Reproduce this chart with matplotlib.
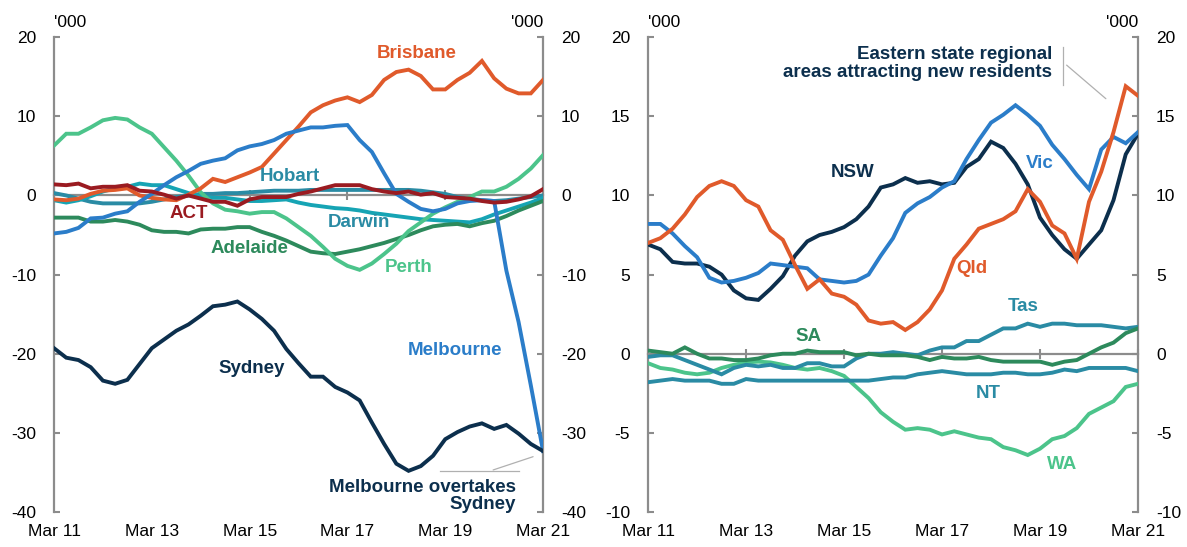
import matplotlib
matplotlib.use("Agg")
import matplotlib.pyplot as plt

plt.rcParams['font.family'] = ['Liberation Sans', 'DejaVu Sans']
plt.rcParams['axes.unicode_minus'] = False

# quarterly, Mar 11 .. Mar 21 (41 points), net interstate migration, '000
tick_idx = [0, 8, 16, 24, 32, 40]
tick_labels = ['Mar 11', 'Mar 13', 'Mar 15', 'Mar 17', 'Mar 19', 'Mar 21']

# ---- capital cities (left panel) ----
sydney = [-19.3, -20.5, -20.8, -21.7, -23.4, -23.8, -23.3, -21.3, -19.3, -18.2,
          -17.1, -16.3, -15.2, -14.0, -13.8, -13.4, -14.4, -15.6, -17.1, -19.4,
          -21.2, -22.9, -22.9, -24.2, -24.9, -25.9, -28.7, -31.4, -33.9, -34.8,
          -34.2, -32.9, -30.8, -29.9, -29.2, -28.8, -29.5, -29.0, -30.1, -31.4, -32.3]
melbourne = [-4.8, -4.6, -4.1, -2.9, -2.8, -2.3, -2.0, -0.8, 0.2, 1.3,
             2.3, 3.1, 4.0, 4.4, 4.7, 5.7, 6.2, 6.5, 7.0, 7.8,
             8.2, 8.6, 8.6, 8.8, 8.9, 7.0, 5.5, 2.8, 0.2, -0.8,
             -1.7, -2.0, -1.7, -1.0, -0.7, -0.6, -0.7, -9.5, -16.0, -24.0, -32.3]
brisbane = [-0.5, -0.6, -0.4, 0.2, 0.6, 0.7, 0.9, 0.0, -0.3, -0.5,
            -0.6, 0.1, 0.9, 2.1, 1.7, 2.3, 2.9, 3.6, 5.3, 7.0,
            8.7, 10.5, 11.4, 12.0, 12.4, 11.8, 12.7, 14.6, 15.6, 15.9,
            15.1, 13.4, 13.4, 14.6, 15.5, 17.0, 14.8, 13.5, 12.9, 12.9, 14.6]
perth = [6.3, 7.8, 7.8, 8.6, 9.5, 9.8, 9.6, 8.6, 7.8, 6.1,
         4.4, 2.5, 0.4, -1.0, -1.8, -2.0, -2.3, -2.1, -2.1, -2.9,
         -4.0, -5.1, -6.5, -8.0, -8.9, -9.4, -8.6, -7.4, -6.1, -4.5,
         -3.4, -2.3, -1.5, -0.8, -0.2, 0.5, 0.5, 1.1, 2.1, 3.4, 5.1]
adelaide = [-2.8, -2.8, -2.8, -3.3, -3.3, -3.1, -3.3, -3.7, -4.4, -4.6,
            -4.6, -4.8, -4.3, -4.2, -4.2, -4.0, -4.0, -4.6, -5.1, -5.7,
            -6.4, -7.1, -7.3, -7.4, -7.1, -6.8, -6.4, -6.0, -5.5, -5.0,
            -4.4, -3.9, -3.7, -3.6, -3.9, -3.5, -3.2, -2.6, -1.9, -1.3, -0.7]
hobart = [0.3, 0.0, -0.4, -0.8, -1.0, -1.0, -1.0, -1.0, -0.8, -0.5,
          -0.2, 0.0, 0.2, 0.2, 0.3, 0.3, 0.4, 0.5, 0.6, 0.6,
          0.6, 0.7, 0.7, 0.7, 0.7, 0.7, 0.7, 0.7, 0.7, 0.7,
          0.6, 0.4, 0.2, -0.2, -0.4, -0.6, -0.7, -0.6, -0.4, -0.2, 0.0]
darwin = [-0.6, -0.9, -0.6, -0.1, 0.5, 0.9, 1.1, 1.5, 1.3, 1.3,
          0.8, 0.3, -0.1, -0.3, -0.3, -0.5, -0.7, -0.7, -0.6, -0.5,
          -0.9, -1.2, -1.4, -1.6, -1.7, -1.9, -2.2, -2.4, -2.6, -2.8,
          -3.0, -3.1, -3.2, -3.3, -3.4, -3.0, -2.4, -1.9, -1.4, -0.9, -0.3]
act = [1.4, 1.3, 1.5, 0.9, 1.1, 1.1, 1.3, 0.6, 0.5, 0.1,
       -0.4, 0.0, -0.4, -0.8, -0.8, -1.3, -0.5, -0.2, -0.2, -0.2,
       0.2, 0.5, 0.9, 1.3, 1.3, 1.3, 0.8, 0.5, 0.3, 0.5,
       0.1, 0.3, -0.2, -0.3, -0.4, -0.7, -0.9, -0.8, -0.5, -0.1, 0.8]

# ---- regional areas (right panel) ----
nsw = [6.9, 6.6, 5.8, 5.7, 5.7, 5.5, 5.0, 4.0, 3.5, 3.4,
       4.1, 4.9, 6.2, 7.1, 7.5, 7.7, 8.0, 8.5, 9.3, 10.5,
       10.7, 11.1, 10.8, 10.9, 10.7, 10.8, 11.8, 12.3, 13.4, 13.0,
       12.0, 10.7, 8.6, 7.5, 6.6, 6.0, 6.9, 7.8, 9.7, 12.6, 13.9]
vic = [8.2, 8.2, 7.6, 6.8, 6.1, 4.8, 4.5, 4.6, 4.8, 5.1,
       5.7, 5.6, 5.5, 5.4, 4.7, 4.6, 4.5, 4.6, 5.0, 6.2,
       7.3, 8.9, 9.5, 9.9, 10.5, 10.9, 12.3, 13.5, 14.6, 15.1,
       15.7, 15.1, 14.4, 13.2, 12.3, 11.3, 10.4, 12.9, 13.7, 13.3, 14.0]
qld = [7.0, 7.3, 7.9, 8.8, 9.9, 10.6, 10.9, 10.6, 9.7, 9.3,
       7.8, 7.2, 5.6, 4.1, 4.7, 3.8, 3.6, 3.1, 2.1, 1.9,
       2.0, 1.5, 2.0, 2.8, 4.0, 6.0, 6.9, 7.9, 8.2, 8.5,
       9.0, 10.4, 9.6, 8.1, 7.6, 6.0, 9.6, 11.5, 14.0, 16.9, 16.3]
sa = [0.2, 0.1, 0.0, 0.4, 0.0, -0.3, -0.3, -0.4, -0.4, -0.3,
      -0.1, 0.0, 0.0, 0.2, 0.1, 0.1, 0.1, -0.1, 0.0, -0.1,
      -0.1, -0.1, -0.2, -0.4, -0.2, -0.3, -0.3, -0.2, -0.4, -0.5,
      -0.5, -0.5, -0.5, -0.7, -0.5, -0.4, 0.0, 0.4, 0.7, 1.3, 1.6]
tas = [-0.2, -0.1, -0.1, -0.4, -0.7, -1.0, -1.3, -0.9, -0.7, -0.8,
       -0.7, -0.9, -0.9, -0.6, -0.6, -0.8, -0.8, -0.3, 0.0, 0.0,
       0.1, 0.0, -0.1, 0.2, 0.4, 0.4, 0.8, 0.8, 1.2, 1.6,
       1.6, 1.9, 1.7, 1.9, 1.9, 1.8, 1.8, 1.8, 1.7, 1.6, 1.7]
nt = [-1.8, -1.7, -1.6, -1.7, -1.7, -1.7, -1.9, -1.9, -1.6, -1.7,
      -1.7, -1.7, -1.7, -1.7, -1.7, -1.7, -1.7, -1.7, -1.7, -1.6,
      -1.5, -1.5, -1.3, -1.2, -1.1, -1.2, -1.3, -1.3, -1.3, -1.2,
      -1.2, -1.3, -1.3, -1.2, -1.0, -1.1, -0.9, -0.9, -0.9, -0.9, -1.1]
wa = [-0.6, -0.9, -1.0, -1.2, -1.3, -1.2, -0.9, -0.7, -0.55, -0.5,
      -0.55, -0.7, -0.9, -1.0, -0.9, -1.1, -1.4, -2.1, -2.8, -3.7,
      -4.3, -4.8, -4.7, -4.8, -5.1, -4.9, -5.1, -5.3, -5.4, -5.9,
      -6.1, -6.4, -6.0, -5.4, -5.2, -4.7, -3.8, -3.4, -3.0, -2.1, -1.9]

NAVY = '#0c2f4d'
BLUE = '#2b7dc9'
ORANGE = '#e05a2b'
LGREEN = '#4cc48b'
DGREEN = '#2d8a5c'
TEAL = '#2a8ba4'
CYAN = '#16a4b4'
RED = '#9a1b21'
GREY = '#8c8c8c'
LW = 2.8

x = list(range(len(sydney)))

fig = plt.figure(figsize=(11.87, 5.47), dpi=100)
ax1 = fig.add_axes([0.0455, 0.064, 0.412, 0.868])
ax2 = fig.add_axes([0.546, 0.064, 0.4127, 0.868])


def style_axis(ax, ylim, step):
    ax.set_xlim(0, 40)
    ax.set_ylim(*ylim)
    ax.set_yticks(range(ylim[0], ylim[1] + 1, step))
    for s in ['left', 'right', 'bottom']:
        ax.spines[s].set_color(GREY)
        ax.spines[s].set_linewidth(1.6)
    ax.spines['top'].set_visible(False)
    ax.spines['bottom'].set_position(('data', 0))
    ax.spines['bottom'].set_zorder(1)
    ax.tick_params(axis='y', which='both', left=True, right=True,
                   labelleft=True, labelright=True, direction='in',
                   length=4, width=1.5, color=GREY, labelsize=12.5)
    ax.tick_params(axis='y', which='both', pad=13)
    ax.set_xticks(tick_idx)
    ax.tick_params(axis='x', direction='inout', length=7, width=1.5,
                   color=GREY, labelbottom=False)
    sec = ax.secondary_xaxis('bottom')
    sec.set_xticks(tick_idx, tick_labels)
    sec.spines['bottom'].set_visible(False)
    sec.tick_params(length=0, pad=9, labelsize=12.5)
    ax.text(0.0, 1.015, "'000", transform=ax.transAxes, ha='left',
            va='bottom', fontsize=12.5)
    ax.text(1.0, 1.015, "'000", transform=ax.transAxes, ha='right',
            va='bottom', fontsize=12.5)


style_axis(ax1, (-40, 20), 10)
style_axis(ax2, (-10, 20), 5)

# left panel lines
for series, col in [(hobart, TEAL), (darwin, CYAN), (adelaide, DGREEN),
                    (perth, LGREEN), (brisbane, ORANGE), (melbourne, BLUE),
                    (act, RED), (sydney, NAVY)]:
    ax1.plot(x, series, color=col, lw=LW, solid_joinstyle='miter', zorder=3)

FS = 13.5
lab = dict(fontsize=FS, fontweight='bold', ha='center', va='center')
ax1.text(29.7, 18.0, 'Brisbane', color=ORANGE, **lab)
ax1.text(19.3, 2.4, 'Hobart', color=TEAL, **lab)
ax1.text(11.0, -2.3, 'ACT', color=RED, **lab)
ax1.text(24.9, -3.4, 'Darwin', color=TEAL, **lab)
ax1.text(16.0, -6.7, 'Adelaide', color=DGREEN, **lab)
ax1.text(29.0, -9.1, 'Perth', color=LGREEN, **lab)
ax1.text(16.2, -21.9, 'Sydney', color=NAVY, **lab)
ax1.text(32.8, -19.6, 'Melbourne', color=BLUE, **lab)
ax1.text(37.8, -38.0, 'Melbourne overtakes\nSydney', color=NAVY,
         fontsize=FS, fontweight='bold', ha='right', va='center',
         linespacing=1.05)
ax1.plot([31.6, 38.0], [-34.8, -34.8], color='#b0b0b0', lw=0.9, zorder=2)
ax1.annotate('', xy=(39.4, -32.9), xytext=(35.7, -34.8),
             arrowprops=dict(arrowstyle='-', color='#b0b0b0', lw=0.9))

# right panel lines
for series, col in [(wa, LGREEN), (nt, TEAL), (tas, TEAL), (sa, DGREEN),
                    (nsw, NAVY), (vic, BLUE), (qld, ORANGE)]:
    ax2.plot(x, series, color=col, lw=LW, solid_joinstyle='miter', zorder=3)

ax2.text(16.7, 11.45, 'NSW', color=NAVY, **lab)
ax2.text(32.0, 12.0, 'Vic', color=BLUE, **lab)
ax2.text(26.4, 5.4, 'Qld', color=ORANGE, **lab)
ax2.text(30.6, 3.0, 'Tas', color=TEAL, **lab)
ax2.text(13.1, 1.1, 'SA', color=DGREEN, **lab)
ax2.text(27.8, -2.5, 'NT', color=TEAL, **lab)
ax2.text(33.8, -7.0, 'WA', color=LGREEN, **lab)
ax2.text(33.0, 18.35, 'Eastern state regional\nareas attracting new residents',
         color=NAVY, fontsize=FS, fontweight='bold', ha='right',
         va='center', linespacing=1.05)
ax2.plot([33.9, 33.9], [19.4, 17.0], color='#b0b0b0', lw=0.9, zorder=2)
ax2.annotate('', xy=(37.55, 16.0), xytext=(34.0, 18.35),
             arrowprops=dict(arrowstyle='-', color='#b0b0b0', lw=0.9))

fig.savefig('out.png', dpi=100)
